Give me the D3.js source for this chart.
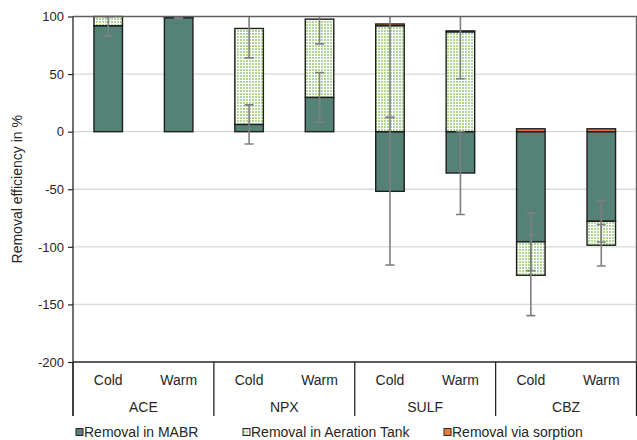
<!DOCTYPE html>
<html>
<head>
<meta charset="utf-8">
<script src="https://cdn.jsdelivr.net/npm/d3@7"></script>
<style>
  html, body { margin: 0; padding: 0; background: #fff; }
  svg { display: block; font-family: "Liberation Sans", Arial, sans-serif; }
</style>
</head>
<body>
<svg id="chart" width="637" height="440"></svg>
<script>
// Compounds (outer category) and temperature conditions (inner category)
const compounds = ["ACE", "NPX", "SULF", "CBZ"];
const conditions = ["Cold", "Warm"];

// Removal efficiency (%) per bar, ordered ACE-Cold, ACE-Warm, NPX-Cold, ...
const removalMABR     = [92, 99, 6.3, 29.8, -51.8, -35.9, -95.7, -77.8];
const removalAeration = [8, 0.6, 83.3, 67.9, 92, 86.7, -29, -20.8];
const removalSorption = [0, 0, 0, 0, 1.5, 0.8, 2.5, 2.5];

// Standard deviations drawn as error bars at each series' stacked end
const errMABR     = [9, 0.8, 17, 21.5, 64, 36, 25, 18];
const errAeration = [0, 0, 25.5, 21.5, 79.5, 40.7, 35, 18];

const yTicks = [100, 50, 0, -50, -100, -150, -200];
const seriesNames = ["Removal in MABR", "Removal in Aeration Tank", "Removal via sorption"];

const svg = d3.select("#chart");
const plot = { left: 73, right: 636.5, top: 16.5, bottom: 362 };

const barKeys = [];
compounds.forEach(c => conditions.forEach(t => barKeys.push(c + "|" + t)));

const x = d3.scalePoint().domain(barKeys).range([plot.left, plot.right]).padding(0.5);
const step = x.step();
const barW = step * 0.405;
const y = d3.scaleLinear().domain([-200, 100]).range([plot.bottom, plot.top]);

// Pattern for the aeration tank series: light green dots on white
const defs = svg.append("defs");
const pat = defs.append("pattern").attr("id", "dots")
  .attr("patternUnits", "userSpaceOnUse").attr("width", 3).attr("height", 3);
pat.append("rect").attr("width", 3).attr("height", 3).attr("fill", "#ffffff");
pat.append("rect").attr("width", 2).attr("height", 2).attr("fill", "#afd695");
defs.append("clipPath").attr("id", "plotClip").append("rect")
  .attr("x", plot.left).attr("y", plot.top)
  .attr("width", plot.right - plot.left).attr("height", plot.bottom - plot.top);

// Horizontal gridlines
svg.append("g").selectAll("line").data(yTicks.filter(v => v > -200 && v < 100)).join("line")
  .attr("x1", plot.left).attr("x2", plot.right)
  .attr("y1", d => y(d)).attr("y2", d => y(d))
  .attr("stroke", "#d9d9d9").attr("stroke-width", 1.3);

// Build stacked segments (positives and negatives stack separately)
const segs = [];
const errs = [];
barKeys.forEach((k, i) => {
  let pos = 0, neg = 0;
  const vals = [removalMABR[i], removalAeration[i], removalSorption[i]];
  const ends = [];
  vals.forEach((v, s) => {
    let y0, y1;
    if (v >= 0) { y0 = pos; y1 = pos + v; pos = y1; }
    else { y0 = neg; y1 = neg + v; neg = y1; }
    ends.push(y1);
    if (v !== 0) segs.push({ key: k, s, y0, y1 });
  });
  errs.push({ key: k, at: ends[0], e: errMABR[i] });
  errs.push({ key: k, at: ends[1], e: errAeration[i] });
});

const fills = ["#548277", "url(#dots)", "#ed7d31"];
svg.append("g").selectAll("rect").data(segs).join("rect")
  .attr("x", d => x(d.key) - barW / 2)
  .attr("width", barW)
  .attr("y", d => y(Math.max(d.y0, d.y1)))
  .attr("height", d => Math.abs(y(d.y0) - y(d.y1)))
  .attr("fill", d => fills[d.s])
  .attr("stroke", "#1f1f1f").attr("stroke-width", 1.4);

// Error bars
const eg = svg.append("g").attr("clip-path", "url(#plotClip)")
  .attr("stroke", "#7f7f7f").attr("stroke-width", 1.6);
errs.forEach(d => {
  const cx = x(d.key);
  eg.append("line").attr("x1", cx).attr("x2", cx)
    .attr("y1", y(d.at + d.e)).attr("y2", y(d.at - d.e));
  [d.at + d.e, d.at - d.e].forEach(v => {
    eg.append("line").attr("x1", cx - 4.5).attr("x2", cx + 4.5)
      .attr("y1", y(v)).attr("y2", y(v));
  });
});

// Plot-area border (top and right)
svg.append("path")
  .attr("d", `M${plot.left},${plot.top}H${plot.right}V${plot.bottom}`)
  .attr("fill", "none").attr("stroke", "#5f5f5f").attr("stroke-width", 1.4);

// Value axis (plain hyphen for negative numbers)
const yAxis = d3.axisLeft(y).tickValues(yTicks).tickSize(5).tickPadding(4)
  .tickFormat(d => String(d));
const ya = svg.append("g").attr("transform", `translate(${plot.left},0)`).call(yAxis);
ya.select(".domain").remove();
ya.selectAll(".tick line").attr("stroke", "#262626").attr("stroke-width", 1.2);
ya.selectAll(".tick text").attr("font-size", 13).attr("fill", "#262626")
  .attr("font-family", "Liberation Sans, Arial, sans-serif");
svg.append("line").attr("x1", plot.left).attr("x2", plot.left)
  .attr("y1", plot.top).attr("y2", 416)
  .attr("stroke", "#262626").attr("stroke-width", 1.3);

// Category axis at the bottom with group separators
svg.append("line").attr("x1", plot.left).attr("x2", plot.right)
  .attr("y1", plot.bottom).attr("y2", plot.bottom)
  .attr("stroke", "#262626").attr("stroke-width", 1.3);
const groupW = (plot.right - plot.left) / compounds.length;
d3.range(compounds.length + 1).forEach(i => {
  svg.append("line")
    .attr("x1", plot.left + i * groupW).attr("x2", plot.left + i * groupW)
    .attr("y1", plot.bottom).attr("y2", 416)
    .attr("stroke", "#262626").attr("stroke-width", 1.3);
});
svg.append("g").selectAll("text").data(barKeys).join("text")
  .attr("x", d => x(d)).attr("y", 385)
  .attr("text-anchor", "middle").attr("font-size", 14).attr("fill", "#262626")
  .text(d => d.split("|")[1]);
svg.append("g").selectAll("text").data(compounds).join("text")
  .attr("x", (d, i) => plot.left + (i + 0.5) * groupW).attr("y", 412)
  .attr("text-anchor", "middle").attr("font-size", 14).attr("fill", "#262626")
  .text(d => d);

// Axis title
svg.append("text")
  .attr("transform", `translate(22,${(plot.top + plot.bottom) / 2}) rotate(-90)`)
  .attr("text-anchor", "middle").attr("font-size", 14).attr("fill", "#262626")
  .text("Removal efficiency in %");

// Legend
const legendX = [73, 240, 441];
const lg = svg.append("g").selectAll("g").data(seriesNames).join("g")
  .attr("transform", (d, i) => `translate(${legendX[i]},428)`);
lg.append("rect").attr("x", 3).attr("y", 0.5).attr("width", 7).attr("height", 7)
  .attr("fill", (d, i) => fills[i]).attr("stroke", "#262626").attr("stroke-width", 1);
lg.append("text").attr("x", 11).attr("y", 8.5).attr("font-size", 14).attr("fill", "#262626")
  .text(d => d);
</script>
</body>
</html>
